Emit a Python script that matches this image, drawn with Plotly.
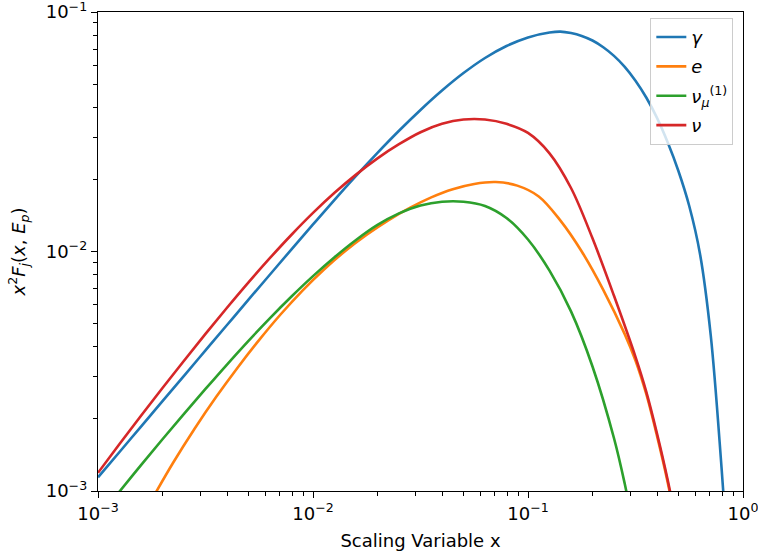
import plotly.graph_objects as go

# ---- data ----
gamma_x = [0.001, 0.001259, 0.001585, 0.001995, 0.002512, 0.003162, 0.003981, 0.005012, 0.00631,
           0.007943, 0.01, 0.01259, 0.01585, 0.01995, 0.02512, 0.03162, 0.03981, 0.05012, 0.0631,
           0.07943, 0.1, 0.1259, 0.1413, 0.1585, 0.1778, 0.1995, 0.2239, 0.2512, 0.2818, 0.3162,
           0.3548, 0.3981, 0.4467, 0.5012, 0.5623, 0.631, 0.7079, 0.7943, 0.8318]
gamma_y = [1.140e-3, 1.455e-3, 1.858e-3, 2.371e-3, 3.027e-3, 3.864e-3, 4.932e-3, 6.295e-3, 8.017e-3,
           0.01021, 0.01297, 0.01644, 0.02070, 0.02582, 0.03192, 0.03899, 0.04699, 0.05559, 0.06427,
           0.07211, 0.07834, 0.08204, 0.08279, 0.08166, 0.07943, 0.07603, 0.07129, 0.06561, 0.05902,
           0.05164, 0.04395, 0.03614, 0.02851, 0.02163, 0.01549, 9.772e-3, 4.467e-3, 1.259e-3, 0.708e-3]

e_x = [0.001778, 0.002239, 0.002818, 0.003548, 0.004467, 0.005623, 0.007079, 0.008913, 0.01122,
       0.01413, 0.01778, 0.02239, 0.02818, 0.03548, 0.04467, 0.05623, 0.07079, 0.08913, 0.1122,
       0.1413, 0.1778, 0.2239, 0.2818, 0.3162, 0.3548, 0.3981, 0.4467, 0.5012]
e_y = [0.920e-3, 1.315e-3, 1.824e-3, 2.472e-3, 3.281e-3, 4.276e-3, 5.470e-3, 6.855e-3, 8.395e-3,
       0.01005, 0.01175, 0.01349, 0.01521, 0.01683, 0.01820, 0.01914, 0.01950, 0.01884, 0.01698,
       0.01349, 0.01000, 6.918e-3, 4.519e-3, 3.508e-3, 2.541e-3, 1.698e-3, 1.084e-3, 0.646e-3]

numu1_x = [0.001122, 0.001259, 0.001585, 0.001995, 0.002512, 0.003162, 0.003981, 0.005012, 0.00631,
           0.007943, 0.01, 0.01259, 0.01585, 0.01995, 0.02512, 0.03162, 0.03981, 0.05012, 0.0631,
           0.07943, 0.1, 0.1259, 0.1585, 0.1995, 0.2512, 0.2818, 0.3162]
numu1_y = [0.877e-3, 0.995e-3, 1.282e-3, 1.644e-3, 2.099e-3, 2.667e-3, 3.373e-3, 4.236e-3, 5.272e-3,
           6.486e-3, 7.889e-3, 9.462e-3, 0.01117, 0.01291, 0.01442, 0.01556, 0.01614, 0.01614, 0.01549,
           0.01380, 0.01122, 8.318e-3, 5.623e-3, 3.311e-3, 1.660e-3, 1.072e-3, 0.638e-3]

nu_x = [0.001, 0.001259, 0.001585, 0.001995, 0.002512, 0.003162, 0.003981, 0.005012, 0.00631,
        0.007943, 0.01, 0.01259, 0.01585, 0.01995, 0.02512, 0.03162, 0.03981, 0.05012, 0.0631,
        0.07943, 0.1, 0.1259, 0.1585, 0.1995, 0.2512, 0.3162, 0.3548, 0.3981, 0.4467, 0.5012]
nu_y = [1.191e-3, 1.570e-3, 2.061e-3, 2.692e-3, 3.499e-3, 4.529e-3, 5.821e-3, 7.430e-3, 9.397e-3,
        0.01175, 0.01449, 0.01758, 0.02094, 0.02449, 0.02805, 0.03148, 0.03412, 0.03556, 0.03556,
        0.03412, 0.03126, 0.02570, 0.01841, 0.01135, 6.531e-3, 3.631e-3, 2.600e-3, 1.738e-3,
        1.109e-3, 0.661e-3]

series_names = ["<i>γ</i>", "<i>e</i>", "<i>ν</i><sub><i>μ</i></sub><sup>(1)</sup>", "<i>ν</i>"]
series_colors = ["#1f77b4", "#ff7f0e", "#2ca02c", "#d62728"]

x_tickvals = [1e-3, 1e-2, 1e-1, 1]
x_ticktext = ["10<sup>−3</sup>", "10<sup>−2</sup>", "10<sup>−1</sup>", "10<sup>0</sup>"]
y_tickvals = [1e-3, 1e-2, 1e-1]
y_ticktext = ["10<sup>−3</sup>", "10<sup>−2</sup>", "10<sup>−1</sup>"]
x_minor = [m * 10 ** d for d in (-3, -2, -1) for m in range(2, 10)]
y_minor = [m * 10 ** d for d in (-3, -2) for m in range(2, 10)]

fig = go.Figure()
for i, (name, xs, ys, col) in enumerate(zip(series_names,
                                            [gamma_x, e_x, numu1_x, nu_x],
                                            [gamma_y, e_y, numu1_y, nu_y],
                                            series_colors)):
    fig.add_trace(go.Scatter(x=xs, y=ys, mode="lines", name=name, legendgroup=f"g{i}",
                             line=dict(color=col, width=2.6, shape="spline", smoothing=1.0)))

axis_common = dict(type="log", showgrid=False, zeroline=False, showline=True, mirror=True,
                   linecolor="black", linewidth=1.4, ticks="outside", ticklen=6, tickwidth=1.4,
                   tickcolor="black", tickfont=dict(size=18, color="black"),
                   ticklabeloverflow="allow", automargin=False)

fig.update_layout(
    width=758, height=553, autosize=False,
    margin=dict(l=98, r=15, t=12, b=62),
    paper_bgcolor="white", plot_bgcolor="white",
    font=dict(family="DejaVu Sans", size=18, color="black"),
    xaxis=dict(range=[-3, 0], tickmode="array", tickvals=x_tickvals, ticktext=x_ticktext,
               minor=dict(tickmode="array", tickvals=x_minor, ticks="outside", ticklen=3.5,
                          tickwidth=1.1, tickcolor="black", showgrid=False),
               title=dict(text="Scaling Variable x", font=dict(size=18), standoff=11),
               **axis_common),
    yaxis=dict(range=[-3, -1], tickmode="array", tickvals=y_tickvals, ticktext=y_ticktext,
               minor=dict(tickmode="array", tickvals=y_minor, ticks="outside", ticklen=3.5,
                          tickwidth=1.1, tickcolor="black", showgrid=False),
               title=dict(text="<i>x</i><sup>2</sup><i>F</i><sub><i>j</i></sub>(<i>x</i>, <i>E</i><sub><i>p</i></sub>)",
                          font=dict(size=18), standoff=15),
               **axis_common),
    legend=dict(x=0.985, y=0.988, xanchor="right", yanchor="top",
                bgcolor="rgba(255,255,255,0.8)", bordercolor="#cccccc", borderwidth=1,
                font=dict(size=18), tracegroupgap=3, itemwidth=30),
    showlegend=True,
)

fig.write_html("out.html")
